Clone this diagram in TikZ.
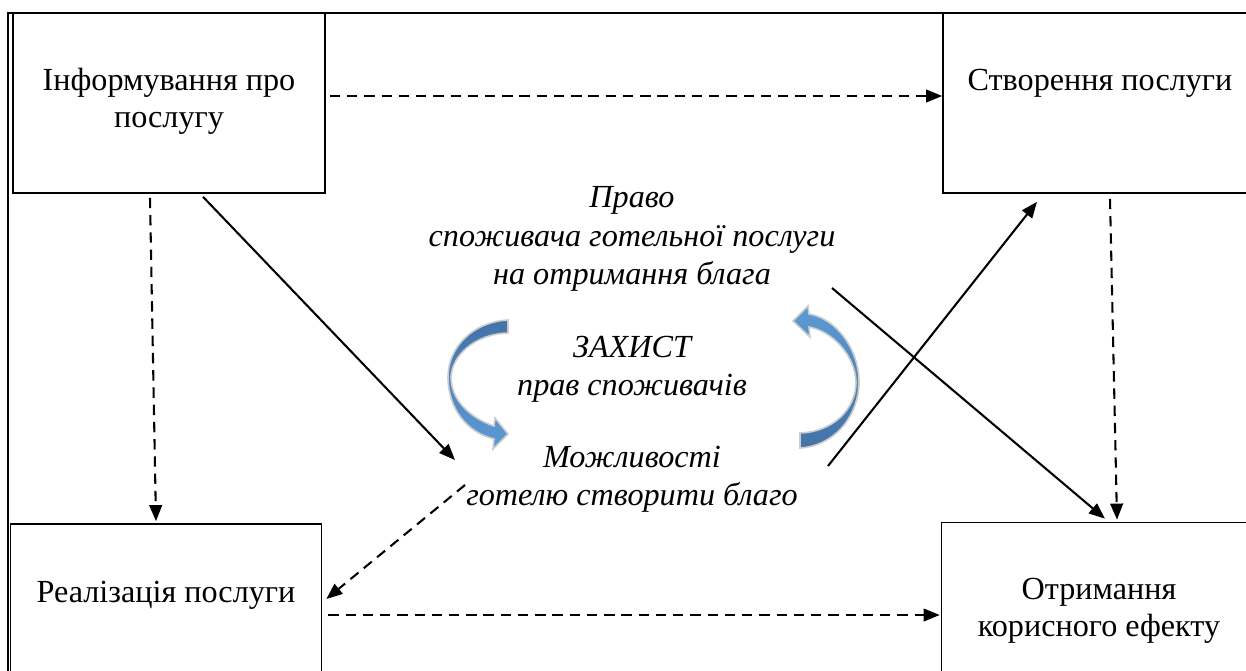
\documentclass[tikz,border=0pt]{standalone}
\usepackage{fontspec}
\setmainfont{Liberation Serif}
\usetikzlibrary{positioning, arrows.meta, calc}
\definecolor{arrdark}{RGB}{66,114,168}
\definecolor{arrlight}{RGB}{93,155,213}
\definecolor{rim}{RGB}{205,205,205}
\def\px{0.435pt}

\begin{document}
\begin{tikzpicture}[
					x=\px, y=-\px,
					box/.style={draw, line width=0.7pt, inner sep=0pt},
					txt/.style={font=\fontsize{14}{16.1}\selectfont, align=center},
					itxt/.style={font=\fontsize{14}{16.6}\selectfont\itshape, align=center},
					tip/.style={-{Triangle[length=7pt, width=5.5pt]}},
					dasharr/.style={tip, line width=0.9pt, dash pattern=on 4.5pt off 3pt},
					solarr/.style={tip, line width=0.9pt},
					curv/.style={draw=rim, line width=0.7pt}
					]
					\useasboundingbox (0,0) rectangle (1246,670);
					\clip (0,0) rectangle (1246,670);
					\draw[line width=0.7pt] (8,690) -- (8,13) -- (1260,13);
					\node[box, minimum width=312*\px, minimum height=180*\px] (info) at (169,103) {};
					\node[box, minimum width=314*\px, minimum height=180*\px] (create) at (1100,103) {};
					\node[box, minimum width=311*\px, minimum height=160*\px] (real) at (166,604) {};
					\node[box, minimum width=315*\px, minimum height=161*\px] (get) at (1099,603) {};
					\node[txt] (info-t) at (169,101) {Інформування про\\послугу};
					\node[txt] (create-t) at (1100,83) {Створення послуги};
					\node[txt] (real-t) at (166,595) {Реалізація послуги};
					\node[txt] (get-t) at (1099,611) {Отримання\\корисного ефекту};
					\node[itxt] (pravo) at (632,239) {Право\\споживача готельної послуги\\на отримання блага};
					\node[itxt] (zakhyst) at (632,369) {ЗАХИСТ\\прав споживачів};
					\node[itxt] (mozhl) at (632,479) {Можливості\\готелю створити благо};
					\coordinate (pravo-out) at (832,288);
					\coordinate (mozhl-in) at (455,460);
					\coordinate (mozhl-up) at (828,466);
					\coordinate (mozhl-dn) at (465,485);
					\draw[curv, top color=arrdark, bottom color=arrlight]
						(508,320) .. controls (472,322) and (448,348) .. (448,377)
						.. controls (448,408) and (466,432) .. (494,439)
						-- (493,449) -- (508,434) -- (495,418) -- (494,426)
						.. controls (470,418) and (451,400) .. (451,377)
						.. controls (452,356) and (474,334) .. (508,333) -- cycle;
					\draw[curv, top color=arrlight, bottom color=arrdark]
						(800,448) .. controls (835,446) and (859,415) .. (859,382)
						.. controls (859,348) and (835,318) .. (809,314)
						-- (808,306) -- (793,321) -- (810,337) -- (809,327)
						.. controls (832,331) and (855,355) .. (856,382)
						.. controls (856,410) and (832,432) .. (800,433) -- cycle;
					\draw[dasharr] ([shift={(4,-7)}]info.east) -- ([shift={(0,-7)}]create.west);
					\draw[dasharr] ([shift={(-19,4)}]info.south) -- ([shift={(-10,-2)}]real.north);
					\draw[solarr] ([shift={(34,3)}]info.south) -- (mozhl-in);
					\draw[dasharr] ([shift={(10,5)}]create.south) -- ([shift={(18,-2)}]get.north);
					\draw[solarr] (pravo-out) -- ([shift={(6,-3)}]get.north);
					\draw[solarr] (mozhl-up) -- ([shift={(-63,8)}]create.south);
					\draw[dasharr] (mozhl-dn) -- ([shift={(4,-5)}]real.east);
					\draw[dasharr] ([shift={(6,11)}]real.east) -- ([shift={(-1,12)}]get.west);
				\end{tikzpicture}
\end{document}
